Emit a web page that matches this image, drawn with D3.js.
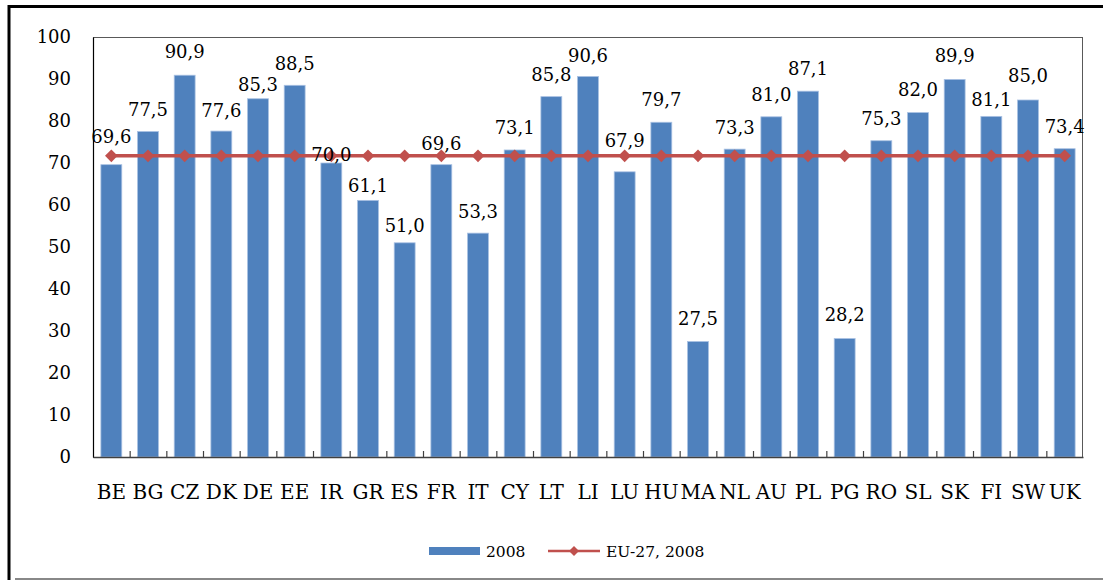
<!DOCTYPE html>
<html>
<head>
<meta charset="utf-8">
<script src="https://cdn.jsdelivr.net/npm/d3@7/dist/d3.min.js"></script>
<style>
  html, body { margin: 0; padding: 0; background: #ffffff; }
  svg { display: block; }
  text { font-family: "DejaVu Serif", "Liberation Serif", serif; fill: #000; }
</style>
</head>
<body>
<svg id="chart" width="1103" height="580"></svg>
<script>
// Country codes along the category axis
const categories = ["BE","BG","CZ","DK","DE","EE","IR","GR","ES","FR","IT","CY","LT","LI",
                    "LU","HU","MA","NL","AU","PL","PG","RO","SL","SK","FI","SW","UK"];

// Country values, 2008
const values2008 = [69.6, 77.5, 90.9, 77.6, 85.3, 88.5, 70.0, 61.1, 51.0, 69.6, 53.3, 73.1, 85.8, 90.6,
                    67.9, 79.7, 27.5, 73.3, 81.0, 87.1, 28.2, 75.3, 82.0, 89.9, 81.1, 85.0, 73.4];

// EU-27 average, 2008 (same reference level for every country)
const euValues = [71.7, 71.7, 71.7, 71.7, 71.7, 71.7, 71.7, 71.7, 71.7, 71.7, 71.7, 71.7, 71.7, 71.7,
                  71.7, 71.7, 71.7, 71.7, 71.7, 71.7, 71.7, 71.7, 71.7, 71.7, 71.7, 71.7, 71.7];

// Value-axis ticks
const yTicks = [0, 10, 20, 30, 40, 50, 60, 70, 80, 90, 100];

// Series names for the legend
const seriesNames = ["2008", "EU-27, 2008"];

// How far (px) each value label sits above its bar top
const labelLift = [28, 21.5, 23.5, 21, 14, 22, 8, 15, 17, 21.5, 22, 22.3, 22.6, 20.5,
                   31, 23, 23, 21.5, 22, 23, 24, 22.4, 22.6, 24.4, 16.4, 24, 22];

const BLUE = "#4f81bd", RED = "#c0504d";
const svg = d3.select("#chart");
const plot = { left: 93, right: 1083, top: 37, bottom: 457 };

// Outer frame
svg.append("rect").attr("x", 0).attr("y", 0).attr("width", 1103).attr("height", 580).attr("fill", "#fff");
svg.append("line").attr("x1", 8).attr("x2", 1103).attr("y1", 6.5).attr("y2", 6.5)
   .attr("stroke", "#000").attr("stroke-width", 3);
svg.append("line").attr("x1", 9).attr("x2", 9).attr("y1", 5).attr("y2", 580)
   .attr("stroke", "#000").attr("stroke-width", 3);
svg.append("line").attr("x1", 15).attr("x2", 1103).attr("y1", 579).attr("y2", 579)
   .attr("stroke", "#888").attr("stroke-width", 2);

const x = d3.scaleBand().domain(categories)
  .range([plot.left, plot.right]).paddingInner(0.43).paddingOuter(0.215);
const y = d3.scaleLinear().domain([0, 100]).range([plot.bottom, plot.top]);

// Plot area border
svg.append("rect")
  .attr("x", plot.left + 0.5).attr("y", plot.top + 0.5)
  .attr("width", plot.right - plot.left - 1).attr("height", plot.bottom - plot.top)
  .attr("fill", "none").attr("stroke", "#595959").attr("stroke-width", 1);

// Bars
svg.append("g").selectAll("rect").data(values2008).join("rect")
  .attr("x", (d, i) => x(categories[i]))
  .attr("y", d => y(d))
  .attr("width", x.bandwidth())
  .attr("height", d => y(0) - y(d))
  .attr("fill", BLUE)
  .attr("stroke", "#a9c1e3").attr("stroke-width", 0.8);

// Value axis
const yAxis = svg.append("g").attr("transform", `translate(${plot.left},0)`)
  .call(d3.axisLeft(y).tickValues(yTicks).tickSize(0).tickPadding(22));
yAxis.select(".domain").attr("stroke", "#000").attr("stroke-width", 1.2);
yAxis.selectAll("text").attr("font-size", 18).style("font-family", "DejaVu Serif, serif");

// Category boundary tick marks, pointing into the plot
const bounds = d3.scaleLinear().domain([0, categories.length]).range([plot.left, plot.right]);
const tickAxis = svg.append("g").attr("transform", `translate(0,${plot.bottom})`)
  .call(d3.axisBottom(bounds).tickValues(d3.range(1, categories.length)).tickSize(-6).tickFormat(""));
tickAxis.select(".domain").remove();
tickAxis.selectAll("line").attr("stroke", "#404040").attr("stroke-width", 1.2);

// Category labels
const xAxis = svg.append("g").attr("transform", `translate(0,${plot.bottom})`)
  .call(d3.axisBottom(x).tickSize(0));
xAxis.select(".domain").attr("stroke", "#404040").attr("stroke-width", 1.6);
xAxis.selectAll("text").attr("y", 42).attr("dy", 0).attr("font-size", 20)
  .style("font-family", "DejaVu Serif, serif");

// EU-27 reference line with diamond markers
const cx = c => x(c) + x.bandwidth() / 2;
svg.append("path")
  .datum(euValues)
  .attr("fill", "none").attr("stroke", RED).attr("stroke-width", 3.5)
  .attr("d", d3.line().x((d, i) => cx(categories[i])).y(d => y(d)));
const diamond = d3.symbol(d3.symbolSquare, 80);
svg.append("g").selectAll("path").data(euValues).join("path")
  .attr("d", diamond)
  .attr("transform", (d, i) => `translate(${cx(categories[i])},${y(d)}) rotate(45)`)
  .attr("fill", RED);

// Value labels (comma decimal separator)
const fmt = v => d3.format(".1f")(v).replace(".", ",");
svg.append("g").selectAll("text").data(values2008).join("text")
  .attr("x", (d, i) => cx(categories[i]))
  .attr("y", (d, i) => y(d) - labelLift[i])
  .attr("dy", "0.36em")
  .attr("text-anchor", "middle")
  .attr("font-size", 18)
  .text(d => fmt(d));

// Legend
const legend = svg.append("g").attr("transform", "translate(0,551)");
legend.append("rect").attr("x", 429).attr("y", -4).attr("width", 51).attr("height", 8).attr("fill", BLUE);
legend.append("text").attr("x", 486).attr("y", 0).attr("dy", "0.36em").attr("font-size", 15.5).text(seriesNames[0]);
legend.append("line").attr("x1", 548).attr("x2", 600).attr("y1", 0).attr("y2", 0)
  .attr("stroke", RED).attr("stroke-width", 2.5);
legend.append("path").attr("d", d3.symbol(d3.symbolSquare, 50)).attr("transform", "translate(574,0) rotate(45)")
  .attr("fill", RED);
legend.append("text").attr("x", 606).attr("y", 0).attr("dy", "0.36em").attr("font-size", 15.5).text(seriesNames[1]);
</script>
</body>
</html>
